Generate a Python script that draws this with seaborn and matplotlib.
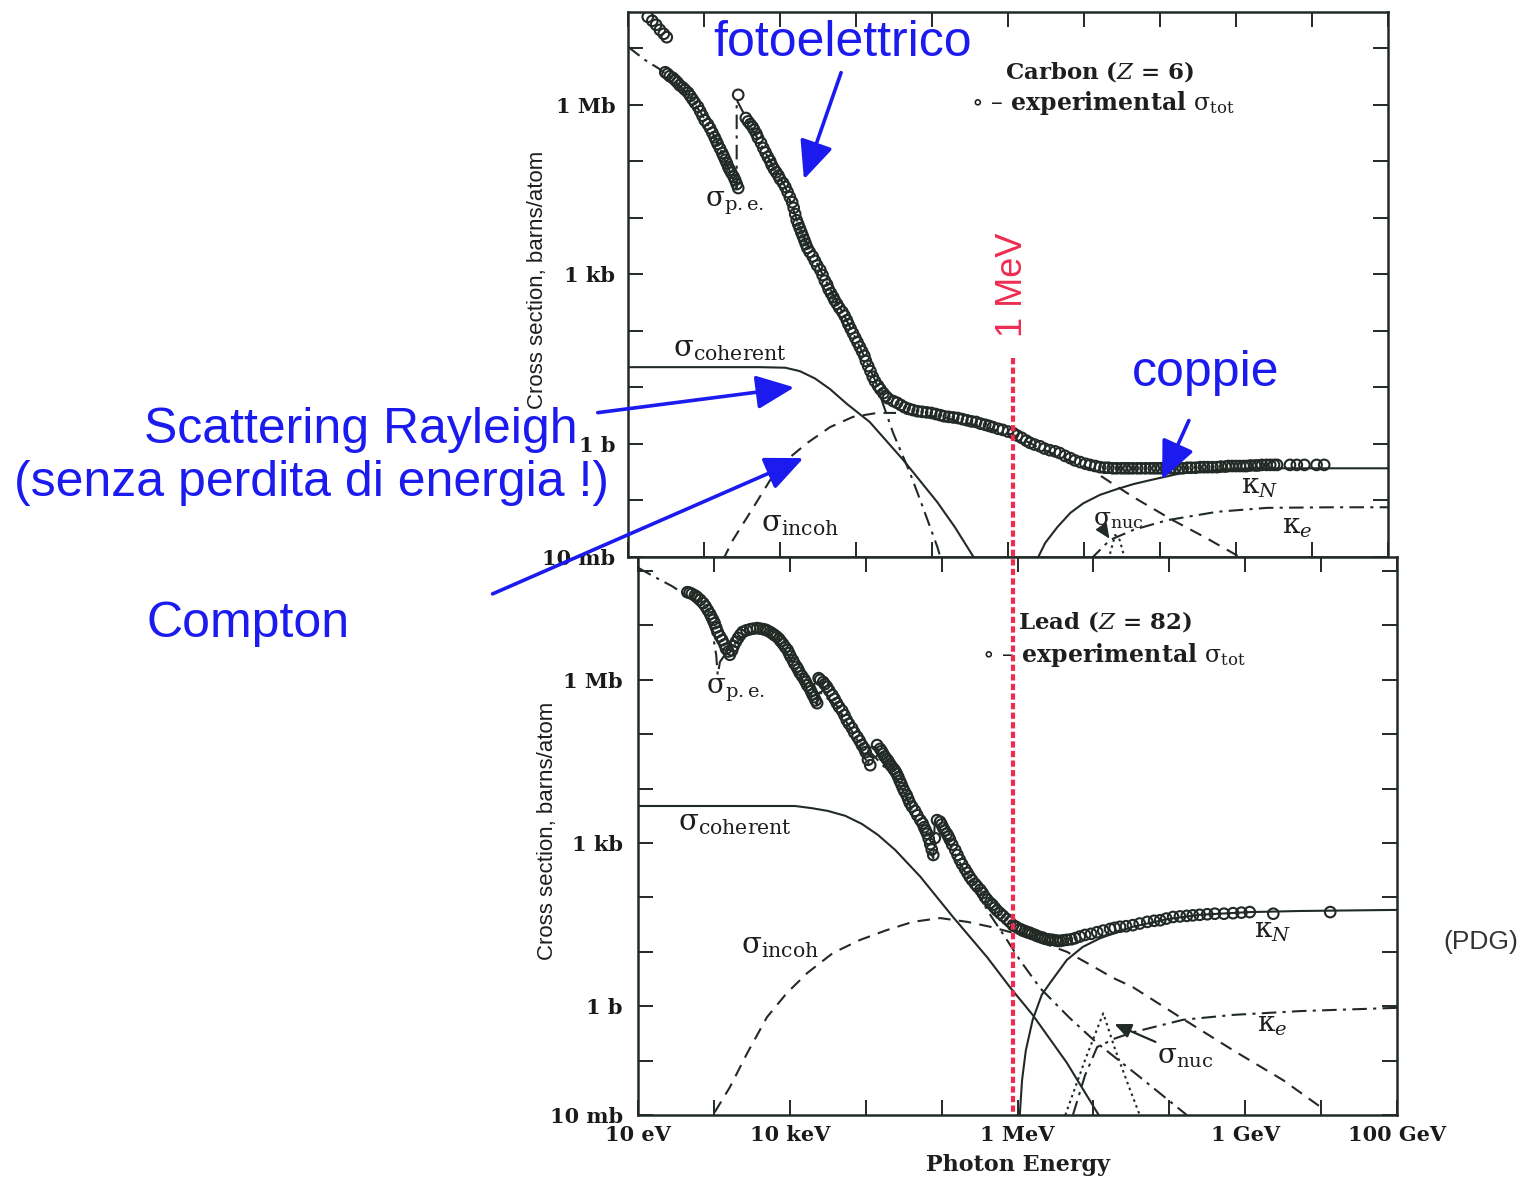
import numpy as np
import pandas as pd
import matplotlib
matplotlib.use("Agg")
import matplotlib.pyplot as plt
import seaborn as sns
from matplotlib.lines import Line2D
from matplotlib.patches import FancyArrowPatch
from matplotlib.ticker import NullLocator

# ---------------- data (log10 of photon energy in eV, log10 of cross section in barns) -------------
# Carbon, experimental total cross section (open circles)
carbon_tot_log_e = [1.26, 1.32, 1.37, 1.42, 1.47, 1.51,
                    1.49, 1.55, 1.62, 1.68, 1.75, 1.82, 1.88, 1.95, 2.01, 2.08, 2.14, 2.18, 2.24, 2.28,
                    2.32, 2.36, 2.41, 2.45,
                    2.45,
                    2.55, 2.61, 2.66, 2.71, 2.78, 2.84, 2.89, 2.95, 3.00, 3.07, 3.13, 3.18, 3.22, 3.26,
                    3.30, 3.34, 3.39, 3.46, 3.53, 3.59, 3.64, 3.70, 3.75, 3.82, 3.88, 3.93, 3.99, 4.05,
                    4.11, 4.16, 4.22, 4.29, 4.36, 4.42, 4.49, 4.54, 4.64, 4.75, 4.87, 4.99, 5.11, 5.22,
                    5.34, 5.46, 5.58, 5.70, 5.80, 5.93, 6.07, 6.18, 6.29, 6.42, 6.55, 6.68, 6.82, 6.95,
                    7.08, 7.21, 7.32, 7.43, 7.54, 7.64, 7.75, 7.87, 7.97, 8.08, 8.20, 8.30, 8.41, 8.53,
                    8.63, 8.75, 8.86, 8.95, 9.05, 9.14, 9.25, 9.34, 9.45, 9.54, 9.71, 9.80, 9.90,
                    10.06, 10.16,
                    1.52, 1.59, 1.65, 1.72, 1.79, 1.85, 1.92, 1.98, 2.05, 2.11, 2.16, 2.21, 2.26, 2.30,
                    2.34, 2.39, 2.43,
                    2.58, 2.64, 2.69, 2.75, 2.81, 2.87, 2.92, 2.98, 3.04, 3.10, 3.16, 3.20,
                    3.24, 3.28, 3.32, 3.36, 3.43, 3.49, 3.56, 3.62, 3.67, 3.72, 3.78, 3.85, 3.90, 3.96,
                    4.02, 4.08, 4.13, 4.19, 4.25, 4.32, 4.39,
                    4.59, 4.70, 4.81, 4.93, 5.05, 5.16, 5.28, 5.40, 5.52, 5.64, 5.75, 5.87, 6.00, 6.12,
                    6.24, 6.35, 6.48, 6.62, 6.75, 6.88, 7.02, 7.15, 7.27, 7.38, 7.49, 7.59, 7.70, 7.81,
                    7.92, 8.02, 8.14, 8.25, 8.36, 8.47, 8.58, 8.69, 8.80, 8.90, 9.00, 9.10, 9.19, 9.29,
                    9.40, 9.50]
carbon_tot_log_sigma = [7.56, 7.49, 7.42, 7.33, 7.26, 7.20,
                        6.58, 6.51, 6.44, 6.35, 6.27, 6.16, 6.04, 5.89, 5.73, 5.59, 5.43, 5.31, 5.15, 5.03,
                        4.90, 4.80, 4.67, 4.53,
                        6.18,
                        5.77, 5.66, 5.56, 5.42, 5.24, 5.08, 4.94, 4.81, 4.69, 4.55, 4.37, 4.18, 3.96, 3.82,
                        3.68, 3.54, 3.40, 3.24, 3.08, 2.89, 2.74, 2.60, 2.48, 2.34, 2.19, 2.04, 1.88, 1.72,
                        1.56, 1.38, 1.19, 1.03, 0.90, 0.81, 0.76, 0.73, 0.65, 0.60, 0.57, 0.55, 0.51, 0.48,
                        0.46, 0.42, 0.39, 0.34, 0.30, 0.25, 0.19, 0.11, 0.02, -0.04, -0.11, -0.16, -0.25, -0.32,
                        -0.37, -0.41, -0.42, -0.43, -0.43, -0.43, -0.43, -0.43, -0.43, -0.43, -0.43, -0.43, -0.42,
                        -0.41, -0.41, -0.41, -0.40, -0.39, -0.39, -0.39, -0.38, -0.37, -0.37, -0.37, -0.37, -0.37,
                        -0.37, -0.37, -0.37,
                        6.55, 6.48, 6.40, 6.31, 6.22, 6.10, 5.97, 5.81, 5.66, 5.51, 5.37, 5.23, 5.09, 4.97,
                        4.85, 4.73, 4.60,
                        5.71, 5.61, 5.49, 5.33, 5.16, 5.01, 4.87, 4.75, 4.62, 4.46, 4.28, 4.07,
                        3.89, 3.75, 3.61, 3.47, 3.32, 3.16, 2.99, 2.82, 2.67, 2.54, 2.41, 2.27, 2.12, 1.96,
                        1.80, 1.64, 1.47, 1.29, 1.11, 0.97, 0.85,
                        0.69, 0.62, 0.58, 0.56, 0.53, 0.49, 0.47, 0.44, 0.40, 0.36, 0.32, 0.27, 0.22, 0.15,
                        0.06, -0.01, -0.08, -0.13, -0.21, -0.29, -0.35, -0.39, -0.42, -0.43, -0.43, -0.43, -0.43,
                        -0.43, -0.43, -0.43, -0.43, -0.43, -0.42, -0.42, -0.41, -0.41, -0.40, -0.39, -0.39, -0.39,
                        -0.38, -0.38, -0.37, -0.37]

carbon_pe_log_e = [1.00, 1.22, 1.40, 1.55, 1.75, 1.95, 2.15, 2.32, 2.43, 2.43, 2.57, 2.84, 3.07, 3.26,
                   3.53, 3.82, 4.05, 4.26, 4.36, 4.49, 4.71, 4.88, 5.07, 5.12]
carbon_pe_log_sigma = [7.03, 6.80, 6.65, 6.50, 6.25, 5.88, 5.42, 4.89, 4.53, 6.09, 5.73, 5.08, 4.55, 3.82,
                       3.08, 2.34, 1.72, 1.10, 0.69, 0.19, -0.51, -1.12, -1.82, -2.05]

carbon_coh_log_e = [1.00, 1.95, 2.74, 3.07, 3.26, 3.46, 3.66, 3.88, 4.18, 4.62, 5.07, 5.30, 5.57]
carbon_coh_log_sigma = [1.36, 1.36, 1.36, 1.35, 1.29, 1.16, 0.97, 0.71, 0.39, -0.28, -1.03, -1.47, -2.05]

carbon_incoh_log_e = [2.25, 2.38, 2.65, 2.87, 3.09, 3.36, 3.66, 3.96, 4.28, 4.58, 5.11, 5.63, 6.07,
                      6.42, 6.82, 7.08, 7.34, 7.65, 8.17, 8.59, 9.05]
carbon_incoh_log_sigma = [-2.05, -1.70, -1.12, -0.64, -0.28, 0.02, 0.30, 0.48, 0.55, 0.55, 0.48, 0.32, 0.16,
                          -0.07, -0.30, -0.44, -0.67, -0.94, -1.35, -1.65, -2.00]

carbon_kn_log_e = [6.38, 6.49, 6.65, 6.82, 6.99, 7.21, 7.43, 7.65, 7.87, 8.30, 8.75, 9.32, 10.11, 11.0]
carbon_kn_log_sigma = [-2.05, -1.75, -1.47, -1.22, -1.05, -0.90, -0.80, -0.71, -0.64, -0.51, -0.46, -0.43,
                       -0.43, -0.43]

carbon_ke_log_e = [7.08, 7.34, 7.65, 8.09, 8.75, 9.41, 10.28, 11.0]
carbon_ke_log_sigma = [-2.05, -1.70, -1.52, -1.35, -1.20, -1.13, -1.12, -1.12]

carbon_nuc_log_e = [7.32, 7.41, 7.47, 7.54]
carbon_nuc_log_sigma = [-2.05, -1.61, -1.70, -2.05]

# Lead, experimental total cross section
lead_tot_log_e = [1.65, 1.71, 1.78, 1.86, 1.92, 1.97, 2.01, 2.05, 2.11, 2.16, 2.21, 2.26, 2.32, 2.38, 2.48,
                  2.57, 2.65, 2.71, 2.78, 2.83, 2.88, 2.94, 2.99, 3.04, 3.09, 3.13, 3.19, 3.23, 3.28, 3.32,
                  3.36, 3.37, 3.38, 3.44, 3.49, 3.56, 3.62, 3.69, 3.75, 3.82, 3.89, 3.95, 4.00, 4.03, 4.06,
                  4.10, 4.15, 4.19, 4.23, 4.28, 4.32, 4.37, 4.41, 4.45, 4.49, 4.54, 4.58, 4.65, 4.72, 4.77,
                  4.81, 4.85, 4.89, 4.91, 4.94, 4.98, 5.02, 5.07, 5.11, 5.18, 5.24, 5.31, 5.37, 5.44, 5.51,
                  5.57, 5.64, 5.70, 5.77, 5.86, 5.94, 6.03, 6.10, 6.16, 6.23, 6.30, 6.36, 6.43, 6.50, 6.56,
                  6.65, 6.71, 6.76, 6.82, 6.89, 6.97, 7.05, 7.13, 7.22, 7.28, 7.35, 7.43, 7.52, 7.61, 7.71,
                  7.80, 7.88, 7.96, 8.05, 8.14, 8.23, 8.31, 8.40, 8.50, 8.60, 8.72, 8.84, 8.95, 9.06, 9.37,
                  10.12,
                  1.68, 1.75, 1.82, 1.89, 1.95, 1.99, 2.03, 2.08, 2.14, 2.19, 2.24, 2.29, 2.35,
                  2.43, 2.52, 2.61, 2.68, 2.75, 2.80, 2.86, 2.91, 2.97, 3.01, 3.06, 3.11, 3.16, 3.21,
                  3.26, 3.30, 3.34,
                  3.40, 3.46, 3.52, 3.59, 3.65, 3.72, 3.78, 3.85, 3.92, 3.98, 4.21, 4.25, 4.30, 4.34,
                  4.39, 4.43, 4.47, 4.51, 4.56, 4.61, 4.68, 4.75, 4.79, 4.83, 4.87, 5.00, 5.04, 5.09,
                  5.14, 5.21, 5.27, 5.34, 5.40, 5.47, 5.54, 5.60, 5.67, 5.73, 5.81, 5.90, 5.98, 6.06,
                  6.13, 6.19, 6.26, 6.33, 6.40, 6.46, 6.53, 6.60]
lead_tot_log_sigma = [7.61, 7.58, 7.52, 7.41, 7.28, 7.15, 7.04, 6.88, 6.73, 6.57, 6.46, 6.62, 6.77, 6.88, 6.93,
                      6.95, 6.93, 6.90, 6.84, 6.79, 6.71, 6.60, 6.49, 6.36, 6.24, 6.13, 6.01, 5.90, 5.79, 5.68,
                      5.57, 5.85, 6.03, 5.96, 5.87, 5.72, 5.57, 5.43, 5.26, 5.11, 4.95, 4.80, 4.67, 4.53, 4.43,
                      4.67, 4.80, 4.73, 4.64, 4.54, 4.45, 4.36, 4.27, 4.14, 4.01, 3.88, 3.74, 3.59, 3.42, 3.29,
                      3.17, 2.98, 2.78, 3.09, 3.42, 3.39, 3.28, 3.17, 3.06, 2.87, 2.69, 2.52, 2.38, 2.25, 2.14,
                      2.01, 1.90, 1.81, 1.71, 1.60, 1.49, 1.42, 1.38, 1.35, 1.31, 1.27, 1.24, 1.22, 1.21, 1.20,
                      1.22, 1.23, 1.25, 1.28, 1.31, 1.33, 1.36, 1.39, 1.42, 1.44, 1.46, 1.47, 1.49, 1.52, 1.55,
                      1.57, 1.58, 1.61, 1.64, 1.65, 1.66, 1.67, 1.68, 1.69, 1.70, 1.70, 1.71, 1.72, 1.73, 1.70,
                      1.73,
                      7.60, 7.55, 7.47, 7.35, 7.21, 7.10, 6.96, 6.80, 6.65, 6.52, 6.54, 6.70, 6.83,
                      6.91, 6.94, 6.94, 6.92, 6.87, 6.82, 6.75, 6.66, 6.55, 6.43, 6.30, 6.19, 6.07, 5.96,
                      5.85, 5.73, 5.62,
                      6.00, 5.92, 5.80, 5.65, 5.50, 5.35, 5.19, 5.03, 4.88, 4.74, 4.69, 4.59, 4.50, 4.41,
                      4.32, 4.21, 4.08, 3.95, 3.81, 3.67, 3.51, 3.36, 3.23, 3.08, 2.88, 3.34, 3.23, 3.12,
                      2.97, 2.78, 2.61, 2.45, 2.32, 2.20, 2.08, 1.96, 1.86, 1.76, 1.66, 1.55, 1.46, 1.40,
                      1.36, 1.33, 1.29, 1.26, 1.23, 1.22, 1.20, 1.21]

lead_pe_log_e = [1.00, 1.22, 1.45, 1.69, 1.86, 1.98, 2.03, 2.05, 2.08, 2.19, 2.38, 2.57, 2.74, 2.94, 3.13,
                 3.36, 3.36, 3.62, 3.89, 4.03, 4.06, 4.45, 4.89, 4.91, 5.11, 5.37, 5.64, 5.86, 6.03, 6.30,
                 6.69, 7.05, 7.61, 8.23]
lead_pe_log_sigma = [8.06, 7.89, 7.72, 7.50, 7.28, 6.88, 6.46, 6.09, 6.33, 6.55, 6.79, 6.88, 6.81, 6.55, 6.09,
                     5.54, 5.81, 5.52, 4.89, 4.43, 4.67, 4.10, 2.72, 3.39, 2.96, 2.32, 1.68, 1.22, 0.85, 0.33,
                     -0.22, -0.68, -1.30, -2.00]

lead_coh_log_e = [1.00, 1.82, 2.61, 3.07, 3.29, 3.50, 3.73, 3.95, 4.16, 4.39, 4.72, 5.15, 5.60, 5.90, 6.20,
                  6.65, 7.07]
lead_coh_log_sigma = [3.68, 3.68, 3.68, 3.68, 3.64, 3.59, 3.50, 3.35, 3.15, 2.87, 2.38, 1.64, 0.90, 0.35,
                      -0.16, -1.04, -2.00]

lead_incoh_log_e = [2.01, 2.21, 2.44, 2.70, 2.96, 3.23, 3.57, 3.93, 4.28, 4.62, 4.98, 5.34, 5.64, 5.94, 6.30,
                    6.65, 6.96, 7.26, 7.52, 8.14, 8.84, 9.50, 10.05]
lead_incoh_log_sigma = [-1.95, -1.49, -0.86, -0.20, 0.24, 0.61, 0.98, 1.22, 1.40, 1.55, 1.62, 1.55, 1.46, 1.35,
                        1.18, 1.00, 0.76, 0.52, 0.35, -0.20, -0.81, -1.36, -1.91]

lead_kn_log_e = [6.03, 6.06, 6.11, 6.20, 6.32, 6.43, 6.65, 6.86, 7.09, 7.52, 7.97, 8.40, 9.06, 9.72, 11.0]
lead_kn_log_sigma = [-2.00, -1.36, -0.81, -0.25, 0.21, 0.43, 0.85, 1.09, 1.25, 1.46, 1.60, 1.68, 1.73, 1.75, 1.77]

lead_ke_log_e = [6.73, 6.89, 7.05, 7.29, 7.52, 8.18, 8.84, 9.72, 11.0]
lead_ke_log_sigma = [-2.00, -1.27, -0.75, -0.59, -0.48, -0.25, -0.16, -0.09, -0.03]

lead_nuc_log_e = [6.63, 6.89, 7.13, 7.29, 7.46, 7.61]
lead_nuc_log_sigma = [-2.00, -0.99, -0.13, -0.81, -1.45, -2.00]

x_tick_exponents = list(range(1, 12))
x_tick_labels = {1: "10 eV", 3: "10 keV", 6: "1 MeV", 9: "1 GeV", 11: "100 GeV"}
y_tick_labels = {-2: "10 mb", 0: "1 b", 3: "1 kb", 6: "1 Mb"}

# ---------------- style ----------------
sns.set_theme(style="ticks")
plt.rcParams["font.family"] = ["DejaVu Serif", "DejaVu Sans"]
plt.rcParams["mathtext.fontset"] = "dejavuserif"

W, H = 1529, 1178
INK = "#222a26"
BLUE = "#1b1bef"
RED = "#ee2c50"
SANS = ["Liberation Sans", "DejaVu Sans"]

fig = plt.figure(figsize=(W / 100, H / 100), dpi=100)
fig.patch.set_facecolor("white")


def fx(x):
    return x / W


def fy(y):
    return 1 - y / H


ax_c = fig.add_axes([fx(628), fy(557), (1388 - 628) / W, (557 - 12) / H])
ax_l = fig.add_axes([fx(638), fy(1115), (1397 - 638) / W, (1115 - 557) / H])


def frame(df_e, df_s):
    return pd.DataFrame({"energy": np.power(10.0, np.array(df_e, dtype=float)),
                         "sigma": np.power(10.0, np.array(df_s, dtype=float))})


def curve(ax, le, ls_, style, lw=1.5):
    sns.lineplot(data=frame(le, ls_), x="energy", y="sigma", ax=ax, sort=False, estimator=None,
                 color=INK, linewidth=lw, linestyle=style)


def points(ax, le, ls_):
    sns.scatterplot(data=frame(le, ls_), x="energy", y="sigma", ax=ax, marker="o", s=58,
                    facecolor="none", edgecolor=INK, linewidth=1.5, zorder=4)
    ax.collections[-1].set_facecolor("none")


DASH = (0, (6, 4))
DASHDOT = (0, (7, 3, 1.5, 3))
DOT = (0, (1.2, 1.8))

for ax, ytop in [(ax_c, 10 ** 7.646), (ax_l, 10 ** 8.257)]:
    ax.set_xscale("log")
    ax.set_yscale("log")
    ax.set_xlim(10, 1e11)
    ax.set_ylim(1e-2, ytop)
    ax.set_facecolor("white")

curve(ax_c, carbon_coh_log_e, carbon_coh_log_sigma, "-")
curve(ax_c, carbon_incoh_log_e, carbon_incoh_log_sigma, DASH)
curve(ax_c, carbon_pe_log_e, carbon_pe_log_sigma, DASHDOT)
curve(ax_c, carbon_kn_log_e, carbon_kn_log_sigma, "-")
curve(ax_c, carbon_ke_log_e, carbon_ke_log_sigma, DASHDOT)
curve(ax_c, carbon_nuc_log_e, carbon_nuc_log_sigma, DOT)
points(ax_c, carbon_tot_log_e, carbon_tot_log_sigma)

curve(ax_l, lead_coh_log_e, lead_coh_log_sigma, "-")
curve(ax_l, lead_incoh_log_e, lead_incoh_log_sigma, DASH)
curve(ax_l, lead_pe_log_e, lead_pe_log_sigma, DASHDOT)
curve(ax_l, lead_kn_log_e, lead_kn_log_sigma, "-")
curve(ax_l, lead_ke_log_e, lead_ke_log_sigma, DASHDOT)
curve(ax_l, lead_nuc_log_e, lead_nuc_log_sigma, DOT)
points(ax_l, lead_tot_log_e, lead_tot_log_sigma)

for ax, ymax_exp, pad in [(ax_c, 7, 9), (ax_l, 8, 11)]:
    ax.set_xlabel("")
    ax.set_ylabel("")
    xt = [10.0 ** k for k in x_tick_exponents]
    ax.set_xticks(xt)
    ax.set_xticklabels([x_tick_labels.get(k, "") for k in x_tick_exponents])
    yexp = list(range(-2, ymax_exp + 1))
    ax.set_yticks([10.0 ** k for k in yexp])
    ax.set_yticklabels([y_tick_labels.get(k, "") for k in yexp])
    ax.xaxis.set_minor_locator(NullLocator())
    ax.yaxis.set_minor_locator(NullLocator())
    ax.tick_params(which="major", direction="in", length=11, width=1.4, color=INK,
                   top=True, right=True, bottom=True, left=True, labelsize=15, labelcolor="#1a1a1a")
    ax.tick_params(axis="y", pad=pad)
    ax.tick_params(axis="x", pad=7)
    for lab in ax.get_xticklabels() + ax.get_yticklabels():
        lab.set_fontweight("bold")
        lab.set_family("DejaVu Serif")
    for sp in ax.spines.values():
        sp.set_color(INK)
        sp.set_linewidth(1.8)

ax_c.tick_params(axis="x", labelbottom=False)


# ---------------- texts ----------------
def ftext(x, y, s, **kw):
    kw.setdefault("ha", "center")
    kw.setdefault("va", "center")
    fig.text(fx(x), fy(y), s, **kw)


SERIF_KW = dict(color="#1e1e1e", family="DejaVu Serif")
SIG = r"\mathrm{\sigma}"
KAP = r"\mathrm{\kappa}"
ftext(735, 203, rf"${SIG}_{{\mathrm{{p.e.}}}}$", fontsize=20, **SERIF_KW)
ftext(730, 349, rf"${SIG}_{{\mathrm{{coherent}}}}$", fontsize=21, **SERIF_KW)
ftext(800, 524, rf"${SIG}_{{\mathrm{{incoh}}}}$", fontsize=21, **SERIF_KW)
ftext(1260, 486, rf"${KAP}_N$", fontsize=20, **SERIF_KW)
ftext(1297, 526, rf"${KAP}_e$", fontsize=20, **SERIF_KW)
ftext(1118, 520, rf"${SIG}_{{\mathrm{{nuc}}}}$", fontsize=18, **SERIF_KW)
ftext(1100, 72, r"Carbon ($Z$ = 6)", fontsize=16.5, fontweight="bold", **SERIF_KW)
ftext(1103, 103, rf"$\circ$ – experimental ${SIG}_{{\mathrm{{tot}}}}$", fontsize=17, fontweight="bold",
      **SERIF_KW)

ftext(1105, 622, r"Lead ($Z$ = 82)", fontsize=16.5, fontweight="bold", **SERIF_KW)
ftext(1114, 655, rf"$\circ$ – experimental ${SIG}_{{\mathrm{{tot}}}}$", fontsize=17, fontweight="bold",
      **SERIF_KW)
ftext(736, 690, rf"${SIG}_{{\mathrm{{p.e.}}}}$", fontsize=20, **SERIF_KW)
ftext(735, 823, rf"${SIG}_{{\mathrm{{coherent}}}}$", fontsize=21, **SERIF_KW)
ftext(780, 946, rf"${SIG}_{{\mathrm{{incoh}}}}$", fontsize=21, **SERIF_KW)
ftext(1273, 930, rf"${KAP}_N$", fontsize=20, **SERIF_KW)
ftext(1272, 1025, rf"${KAP}_e$", fontsize=20, **SERIF_KW)
ftext(1185, 1056, rf"${SIG}_{{\mathrm{{nuc}}}}$", fontsize=20, **SERIF_KW)

ftext(1018, 1165, "Photon Energy", fontsize=16, fontweight="bold", **SERIF_KW)
ftext(537, 280, "Cross section, barns/atom", fontsize=16, rotation=90, color="#1e1e1e", family=SANS)
ftext(548, 831, "Cross section, barns/atom", fontsize=16, rotation=90, color="#1e1e1e", family=SANS)
ftext(1481, 942, "(PDG)", fontsize=19, color="#333333", family=SANS)

# blue annotations
ftext(843, 43, "fotoelettrico", fontsize=36, color=BLUE, family=SANS)
ftext(361, 430, "Scattering Rayleigh", fontsize=36, color=BLUE, family=SANS)
ftext(312, 483, "(senza perdita di energia !)", fontsize=36, color=BLUE, family=SANS)
ftext(248, 624, "Compton", fontsize=36, color=BLUE, family=SANS)
ftext(1206, 373, "coppie", fontsize=36, color=BLUE, family=SANS)
ftext(1013, 285, "1 MeV", fontsize=26, color=RED, family=SANS, rotation=90)


def farrow(p0, p1, color, lw, scale, style="-|>,head_length=0.9,head_width=0.4"):
    fig.add_artist(FancyArrowPatch((fx(p0[0]), fy(p0[1])), (fx(p1[0]), fy(p1[1])),
                                   transform=fig.transFigure, arrowstyle=style,
                                   mutation_scale=scale, color=color, lw=lw, zorder=6))


farrow((842, 70), (803, 182), BLUE, 2.6, 26)
farrow((595, 413), (797, 387), BLUE, 2.6, 26)
farrow((490, 595), (806, 457), BLUE, 2.6, 26)
farrow((1190, 418), (1161, 482), BLUE, 2.6, 26)
farrow((1101, 526), (1111, 541), INK, 1.2, 10)
farrow((1158, 1043), (1112, 1023), INK, 1.6, 11)

# red 1 MeV marker line
fig.add_artist(Line2D([fx(1013), fx(1013)], [fy(358), fy(1115)], transform=fig.transFigure,
                      color=RED, lw=3, linestyle=(0, (1.5, 0.8)), zorder=5))

fig.savefig("out.png", dpi=100, facecolor="white")
